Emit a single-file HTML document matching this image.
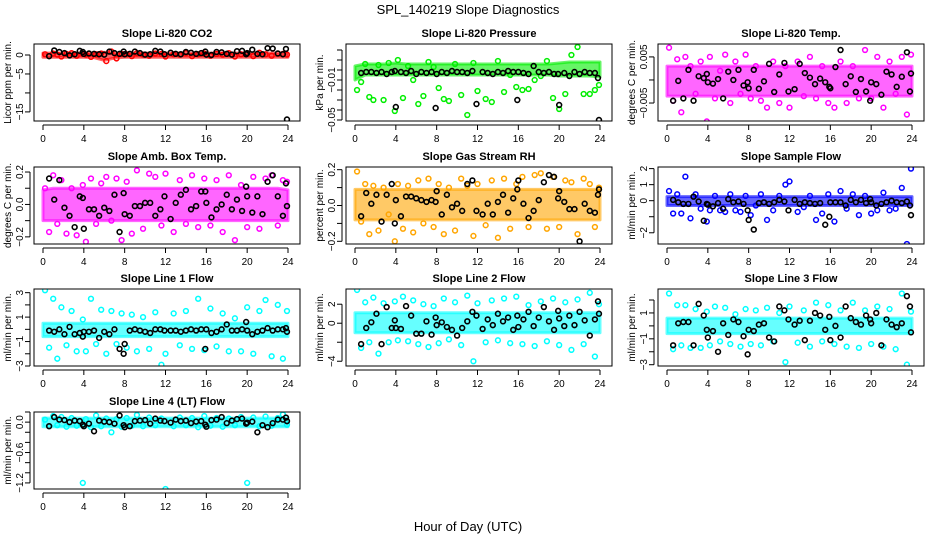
<!DOCTYPE html>
<html><head><meta charset="utf-8"><style>
html,body{margin:0;padding:0;background:#fff;}
svg{display:block;font-family:"Liberation Sans",sans-serif;}
</style></head><body>
<svg id="chart" width="936" height="540" xmlns="http://www.w3.org/2000/svg">
<text x="468" y="14" text-anchor="middle" font-size="13">SPL_140219  Slope Diagnostics</text>
<text x="468" y="531" text-anchor="middle" font-size="13">Hour of Day (UTC)</text>
</svg>
<script>
const xTicks=[0,4,8,12,16,20,24];
const bx=[0.6,1.1,1.6,2.1,2.6,3.1,3.6,3.9,4.0,4.5,5.0,5.5,6.0,6.5,7.0,7.5,7.9,8.0,8.5,9.0,9.5,10.0,10.5,11.0,11.5,11.9,12.5,13.0,13.5,14.0,14.5,15.0,15.5,15.9,16.0,16.5,17.0,17.5,18.0,18.5,19.0,19.5,19.9,20.0,20.5,21.0,21.5,22.0,22.5,23.0,23.5,23.8,23.9];
const cx=[0.2,0.6,1.0,1.4,1.8,2.3,2.8,3.3,3.9,4.2,4.7,5.2,5.7,6.2,6.7,7.2,7.7,8.2,8.7,9.2,9.8,10.4,11.0,11.6,12.0,12.8,13.4,14.0,14.6,15.2,15.8,16.4,17.0,17.6,18.2,18.8,19.4,20.0,20.6,21.2,21.8,22.4,23.0,23.5,23.9];
const bandHours=[0,1,2,3,4,5,6,7,8,9,10,11,12,13,14,15,16,17,18,19,20,21,22,23,24];

const co2Black=[-0.3,1.2,0.8,0.5,-0.1,0.2,1.1,0.8,0.3,0.4,0.3,0.2,0.1,0.9,0.5,0.3,0.9,0.2,0.3,0.9,0.5,0.1,0.2,1.1,0.9,0.2,0.6,0.3,0.2,0.8,0.6,0.3,0.5,0.9,0.1,0,0.8,0.7,0.3,0.1,1.0,1.1,0.2,0.5,1.4,0.3,0.2,1.8,1.7,0.4,0.2,1.6,-17.0];
const co2Color=[0.2,-0.3,0.4,0.1,-0.4,0.3,0.5,-0.2,0.3,0.1,-0.5,0.2,0.4,-1.6,0.9,-0.9,0.3,0.2,-0.3,0.5,0.1,-0.2,0.4,0.3,-0.4,0.2,0.1,0.5,-0.3,0.2,0.4,-0.2,0.3,0.1,0.5,-0.4,0.2,0.3,-0.3,0.6,0.2,-0.2,0.4,0.3,0.1];
const co2Lo=[-0.6,-0.6,-0.6,-0.6,-0.6,-0.7,-1.4,-0.8,-0.6,-0.6,-0.6,-0.6,-0.6,-0.6,-0.6,-0.6,-0.6,-0.6,-0.6,-0.6,-0.6,-0.6,-0.6,-0.6,-0.6];
const co2Hi=[0.5,0.5,0.5,0.5,0.5,0.5,0.7,0.5,0.5,0.5,0.5,0.5,0.5,0.5,0.5,0.5,0.5,0.5,0.5,0.5,0.5,0.5,0.5,0.5,0.5];

const presBlack=[-0.003,-0.002,-0.002,-0.003,-0.002,-0.004,-0.002,-0.001,-0.037,-0.002,-0.003,-0.001,-0.004,-0.002,-0.003,-0.002,-0.038,-0.004,-0.002,-0.003,-0.001,-0.002,-0.002,-0.003,-0.001,-0.034,-0.002,-0.003,-0.004,-0.002,-0.003,-0.001,-0.002,-0.030,-0.002,-0.003,-0.004,0.004,-0.002,-0.003,-0.002,-0.004,-0.004,-0.035,-0.003,-0.006,-0.002,-0.004,-0.002,-0.003,-0.003,-0.008,-0.050];
const presColor=[-0.020,-0.012,0.006,-0.027,-0.030,0.005,-0.030,0.007,-0.041,0.010,-0.028,0.004,-0.010,-0.034,-0.026,0.008,0.003,-0.018,-0.029,-0.031,0.006,-0.025,-0.045,0.007,-0.021,-0.029,-0.032,0.009,-0.022,-0.005,-0.017,-0.020,-0.019,-0.010,-0.006,0.009,-0.028,-0.039,-0.024,0.015,0.023,-0.024,-0.024,-0.020,-0.015];
const presLo=[-0.010,-0.005,-0.005,-0.005,-0.005,-0.005,-0.005,-0.005,-0.005,-0.005,-0.005,-0.005,-0.005,-0.005,-0.005,-0.005,-0.005,-0.005,-0.005,-0.005,-0.006,-0.006,-0.006,-0.006,-0.007];
const presHi=[0.004,0.006,0.006,0.006,0.007,0.006,0.006,0.006,0.006,0.006,0.006,0.006,0.006,0.006,0.006,0.006,0.006,0.006,0.006,0.006,0.007,0.008,0.008,0.008,0.008];

const tempBlack=[-0.0045,-0.0002,-0.004,0.0022,-0.0045,0.0008,0.0004,0.0013,-0.0005,-0.0008,0.0002,-0.004,0.0018,0,0.0022,-0.0012,-0.0005,-0.0018,0.0022,-0.0019,-0.0003,0.0035,-0.0026,0.0012,0.0037,-0.0025,-0.002,0.0035,0.0015,0.0005,-0.0009,0.0003,-0.0005,-0.0015,-0.0018,0.0028,0.0065,-0.0009,0.0008,-0.0026,0.0002,-0.0025,-0.0045,-0.0005,-0.0009,-0.0032,0.0018,0.0012,-0.0015,0.0007,0.006,-0.0025,0.0014];
const tempColor=[0.007,-0.0045,0.0045,-0.007,0.005,0.003,-0.003,0.004,-0.009,0.005,-0.004,0.002,0.0055,-0.005,0.004,-0.003,0.0055,-0.004,0.003,-0.0045,-0.006,0.004,-0.005,0.003,-0.006,0.004,-0.0035,0.005,-0.004,0.003,-0.005,-0.006,0.004,-0.005,0.003,-0.004,0.0065,-0.004,0.005,-0.006,0.004,-0.003,0.005,-0.0075,0.0055];
const tempLo=[-0.0035,-0.0035,-0.0035,-0.0035,-0.0035,-0.0035,-0.0035,-0.0035,-0.0035,-0.0035,-0.0035,-0.0035,-0.0035,-0.0035,-0.0035,-0.0035,-0.0035,-0.0035,-0.0035,-0.0035,-0.0035,-0.0035,-0.0035,-0.0035,-0.0035];
const tempHi=[0.003,0.003,0.003,0.003,0.003,0.003,0.003,0.003,0.003,0.003,0.003,0.003,0.003,0.003,0.003,0.003,0.003,0.003,0.003,0.003,0.003,0.003,0.003,0.003,0.003];

const ambBlack=[0.16,0.03,0.15,-0.02,-0.07,-0.14,0.05,0.04,-0.15,-0.03,-0.03,-0.07,-0.02,-0.04,0.06,-0.17,0.07,-0.06,-0.07,-0.01,-0.01,0.01,0.01,-0.07,-0.03,0.05,-0.09,0.01,0.06,0.09,-0.03,-0.01,0.08,0.08,0.01,-0.08,-0.03,0,0.06,-0.03,0.03,-0.04,0.11,0.05,-0.05,0.05,-0.06,0.14,0.18,0.05,-0.07,0.13,-0.01];
const ambColor=[0.10,-0.17,0.18,-0.12,0.15,-0.18,0.10,-0.19,0.12,-0.23,0.16,-0.12,0.13,0.17,-0.10,0.16,-0.22,0.14,-0.18,0.21,-0.15,0.19,0.17,-0.13,0.19,-0.17,0.15,-0.12,0.18,-0.14,0.16,-0.13,0.15,-0.17,0.18,-0.22,0.12,-0.14,0.17,-0.15,0.16,0.18,-0.13,0.15,0.14];
const ambLo=[-0.10,-0.10,-0.10,-0.10,-0.10,-0.10,-0.10,-0.10,-0.10,-0.10,-0.10,-0.10,-0.10,-0.10,-0.10,-0.10,-0.10,-0.10,-0.10,-0.10,-0.10,-0.10,-0.10,-0.10,-0.10];
const ambHi=[0.09,0.10,0.10,0.10,0.10,0.10,0.10,0.10,0.10,0.10,0.10,0.10,0.10,0.10,0.10,0.10,0.10,0.10,0.10,0.10,0.10,0.10,0.10,0.10,0.09];

const rhBlack=[-0.06,0.07,0.01,0.06,-0.09,0.06,0.12,-0.10,0.03,-0.06,0.05,0.05,0.04,0.03,0.02,0.03,0.02,0.08,-0.05,0.06,-0.01,0.01,-0.03,0.12,0.14,-0.03,-0.05,0.01,-0.05,0.02,0.06,-0.04,0.04,0.09,0.14,0.01,-0.07,-0.03,0.03,0.13,0.17,0.16,0.04,0.08,0.02,-0.02,-0.02,-0.2,0.01,-0.03,-0.04,0.06,0.09];
const rhColor=[0.19,-0.09,0.12,-0.16,0.11,-0.14,0.10,-0.05,-0.20,0.12,-0.13,0.11,-0.15,0.14,-0.10,0.15,-0.12,0.12,-0.16,0.10,-0.14,0.15,0.11,-0.17,0.12,-0.11,0.14,-0.18,0.15,-0.13,0.12,0.16,-0.12,0.17,0.18,-0.13,0.16,-0.12,0.14,0.13,-0.16,0.15,0.12,-0.12,0.10];
const rhLo=[-0.08,-0.08,-0.08,-0.08,-0.08,-0.08,-0.08,-0.08,-0.08,-0.08,-0.08,-0.08,-0.08,-0.08,-0.08,-0.08,-0.08,-0.08,-0.08,-0.08,-0.08,-0.08,-0.08,-0.08,-0.08];
const rhHi=[0.09,0.09,0.09,0.09,0.09,0.09,0.09,0.09,0.09,0.09,0.09,0.09,0.09,0.09,0.09,0.09,0.09,0.09,0.09,0.09,0.09,0.09,0.09,0.09,0.09];

const sampBlack=[0.05,-0.1,-0.2,-0.2,0.25,-0.05,-1.25,-0.2,-0.25,-0.35,-0.15,-0.5,0.1,-0.1,-0.05,-0.2,-0.6,-1.2,-1.8,-0.15,-0.1,-0.2,-0.1,0.05,-0.05,-0.6,0.05,-0.2,-0.1,-0.15,-0.2,-0.15,-1.5,-1.0,-0.1,-0.1,-0.1,-0.3,0.05,-0.1,0.05,-0.15,0.1,-0.1,-0.3,-0.2,-0.1,0,-0.1,-0.15,-0.05,-0.3,-0.9];
const sampColor=[0.6,-0.8,0.4,-0.8,1.5,-1.1,0.4,-0.5,-1.3,-0.6,0.3,-0.6,-0.7,0.4,-0.6,-0.7,0.3,-0.9,-0.3,0.4,-1.2,-0.6,0.3,1.0,1.2,-0.7,-0.4,0.3,-1.2,-0.8,0.4,-1.3,0.6,-0.5,0.4,-0.9,0.3,-0.8,-0.6,0.5,-0.6,-0.5,0.8,-2.7,2.0];
const sampLo=[-0.3,-0.3,-0.3,-0.3,-0.3,-0.3,-0.3,-0.3,-0.3,-0.3,-0.3,-0.3,-0.3,-0.3,-0.3,-0.3,-0.3,-0.3,-0.3,-0.3,-0.3,-0.3,-0.3,-0.3,-0.3];
const sampHi=[0.25,0.25,0.25,0.25,0.25,0.25,0.25,0.25,0.25,0.25,0.25,0.25,0.25,0.25,0.25,0.25,0.25,0.25,0.25,0.25,0.25,0.25,0.25,0.25,0.25];

const l1Black=[-0.1,-0.2,0,-0.4,0.2,-0.4,-0.3,-0.6,-0.2,-0.2,-0.1,-0.7,-0.2,-0.4,0,-1.6,-2.0,-1.2,-0.1,0,-0.1,-0.2,-0.3,0,0,-0.1,-0.1,-0.1,-0.2,-0.1,0,-0.1,0,-1.6,0,-0.3,-0.2,0,0.4,-0.1,-0.1,0,0.6,-0.1,-0.4,-0.2,-0.1,0.1,-0.1,0,0,0.1,-0.2];
const l1Color=[3.2,-1.5,2.5,-2.4,1.8,-1.3,1.5,-1.8,0.8,-1.8,2.5,-1.2,1.6,-2.0,1.5,-1.2,1.3,-1.5,1.2,-1.8,1.0,-1.6,1.4,-2.9,-2.0,1.3,-1.3,1.5,-1.6,2.5,-1.7,1.7,-1.4,1.3,-1.8,0.9,-1.8,1.8,-2.0,1.5,2.4,-2.2,2.0,-2.4,1.5];
const l1Lo=[-0.6,-0.6,-0.6,-0.6,-0.6,-0.6,-0.6,-0.6,-0.6,-0.6,-0.6,-0.6,-0.6,-0.6,-0.6,-0.6,-0.6,-0.6,-0.6,-0.6,-0.6,-0.6,-0.6,-0.6,-0.6];
const l1Hi=[0.5,0.5,0.5,0.5,0.5,0.5,0.5,0.5,0.5,0.5,0.5,0.5,0.5,0.5,0.5,0.5,0.5,0.5,0.5,0.5,0.5,0.5,0.5,0.5,0.5];

const l2Black=[-2.2,-0.5,0.1,1.0,-2.2,1.7,-0.5,0.3,-0.5,-0.6,1.8,0.8,-1.1,-1.1,0.2,-1.2,0.6,-0.2,0.1,-0.4,-0.7,-1.3,-0.5,0.2,1.2,0.8,-0.6,0.4,-0.2,1.0,0.2,0.6,-0.7,0.8,-0.4,0.4,1.2,-0.3,0.6,1.7,0.2,-0.7,1.3,0.5,-0.3,0.8,-0.2,1.2,0.3,-1.3,0.4,2.3,1.0];
const l2Color=[3.5,-2.6,2.2,-2.0,2.7,-3.2,2.1,-2.0,2.3,-1.8,2.8,-1.9,2.4,-2.2,2.0,-2.5,1.8,-2.1,2.6,-1.7,2.2,-2.3,2.9,-4.0,2.1,-2.0,2.4,-1.8,2.6,-2.1,2.8,-2.2,1.9,-2.4,2.3,-1.9,2.6,-2.3,2.2,-2.8,2.5,-2.2,3.2,-3.5,2.0];
const l2Lo=[-1.0,-1.0,-1.0,-1.0,-1.0,-1.0,-1.0,-1.0,-1.0,-1.0,-1.0,-1.0,-1.0,-1.0,-1.0,-1.0,-1.0,-1.0,-1.0,-1.0,-1.0,-1.0,-1.0,-1.0,-1.0];
const l2Hi=[1.1,1.1,1.1,1.1,1.1,1.1,1.1,1.1,1.1,1.1,1.1,1.1,1.1,1.1,1.1,1.1,1.1,1.1,1.1,1.1,1.1,1.1,1.1,1.1,1.1];

const l3Black=[-1.5,0.2,0.3,0.3,-1.5,1.7,0.8,-0.3,-0.9,-0.4,-2.0,0.2,-0.7,0.5,0.3,-0.8,-2.2,-0.3,-0.4,0.1,0.2,-0.9,-1.2,1.5,1.2,0.5,0.1,0.4,-1.1,0.4,1.0,0.8,-0.3,0.7,-1.1,0.0,-0.9,1.5,0.6,0.3,0.1,0.8,0.5,0.2,1.0,-1.5,0.5,0.1,-0.1,0.2,2.3,1.5,-0.5];
const l3Color=[2.5,-1.8,1.6,-1.5,1.6,-1.7,1.3,-1.7,1.1,-1.5,1.5,-1.2,1.4,-1.4,0.9,-1.6,1.3,-1.4,1.2,-1.5,1.4,-1.2,1.0,-2.8,1.5,-1.3,1.2,-1.6,1.8,-1.2,1.6,-1.4,1.2,-1.6,1.8,-1.7,1.2,-1.4,1.5,-1.6,1.3,-1.8,2.5,-3.0,1.1];
const l3Lo=[-0.6,-0.6,-0.6,-0.6,-0.6,-0.6,-0.6,-0.6,-0.6,-0.6,-0.6,-0.6,-0.6,-0.6,-0.6,-0.6,-0.6,-0.6,-0.6,-0.6,-0.6,-0.6,-0.6,-0.6,-0.6];
const l3Hi=[0.6,0.6,0.6,0.6,0.6,0.6,0.6,0.6,0.6,0.6,0.6,0.6,0.6,0.6,0.6,0.6,0.6,0.6,0.6,0.6,0.6,0.6,0.6,0.6,0.6];

const l4Black=[-0.08,0.1,0.05,0.04,0,0.03,0.02,-0.05,-0.08,-0.03,-0.18,0.03,0.01,0,-0.03,0.13,-0.06,-0.1,-0.08,0.02,0.03,0.04,-0.03,0.07,0.03,0.02,-0.01,0.05,0.02,0.03,-0.02,0.01,0.02,-0.05,-0.09,0.04,0.05,0.1,-0.02,0.03,0.06,0.07,-0.03,-0.01,0.01,-0.2,-0.06,-0.1,-0.02,0.05,0.05,0.09,0.02];
const l4Color=[0.05,-0.08,0.12,-0.06,0.10,-0.09,0.08,-0.07,-1.2,0.06,-0.10,0.13,-0.08,0.07,-0.20,0.06,-0.09,0.08,-0.07,0.14,-0.08,0.09,-0.06,0.07,-1.32,-0.08,0.09,-0.06,0.08,-0.10,0.12,-0.07,0.08,-0.09,0.07,-0.06,0.10,-1.2,0.09,-0.08,0.11,-0.07,0.08,0.15,-0.05];
const l4Lo=[-0.09,-0.09,-0.09,-0.09,-0.09,-0.09,-0.09,-0.09,-0.09,-0.09,-0.09,-0.09,-0.09,-0.09,-0.09,-0.09,-0.09,-0.09,-0.09,-0.09,-0.09,-0.09,-0.09,-0.09,-0.09];
const l4Hi=[0.08,0.08,0.08,0.08,0.08,0.08,0.08,0.08,0.08,0.08,0.08,0.08,0.08,0.08,0.08,0.08,0.08,0.08,0.08,0.08,0.08,0.08,0.08,0.08,0.08];

const panels=[
 {key:"co2",title:"Slope Li-820 CO2",ylab:"Licor ppm per min.",col:0,row:0,ymin:-17.4,ymax:2.9,ticks:[0,-5,-10,-15],labels:["0","-5","","-15"],color:"#ff0000",black:co2Black,colr:co2Color,lo:co2Lo,hi:co2Hi},
 {key:"pressure",title:"Slope Li-820 Pressure",ylab:"kPa per min.",col:1,row:0,ymin:-0.051,ymax:0.026,ticks:[0.02,0.01,0,-0.01,-0.02,-0.03,-0.04,-0.05],labels:["","","","-0.01","","","","-0.05"],color:"#00ee00",black:presBlack,colr:presColor,lo:presLo,hi:presHi},
 {key:"temp",title:"Slope Li-820 Temp.",ylab:"degrees C per min.",col:2,row:0,ymin:-0.0089,ymax:0.0078,ticks:[0.005,0,-0.005],labels:["0.005","","-0.005"],color:"#ff00ff",black:tempBlack,colr:tempColor,lo:tempLo,hi:tempHi},
 {key:"amb-box-temp",title:"Slope Amb. Box Temp.",ylab:"degrees C per min.",col:0,row:1,ymin:-0.244,ymax:0.231,ticks:[0.2,0.1,0,-0.1,-0.2],labels:["0.2","","0.0","","-0.2"],color:"#ff00ff",black:ambBlack,colr:ambColor,lo:ambLo,hi:ambHi},
 {key:"gas-rh",title:"Slope Gas Stream RH",ylab:"percent per min.",col:1,row:1,ymin:-0.215,ymax:0.215,ticks:[0.2,0.1,0,-0.1,-0.2],labels:["0.2","","0.0","","-0.2"],color:"#ffa500",black:rhBlack,colr:rhColor,lo:rhLo,hi:rhHi},
 {key:"sample-flow",title:"Slope Sample Flow",ylab:"ml/min per min.",col:2,row:1,ymin:-2.7,ymax:2.1,ticks:[2,1,0,-1,-2],labels:["2","1","0","","-2"],color:"#0000ff",black:sampBlack,colr:sampColor,lo:sampLo,hi:sampHi},
 {key:"line1-flow",title:"Slope Line 1 Flow",ylab:"ml/min per min.",col:0,row:2,ymin:-3.0,ymax:3.3,ticks:[3,2,1,0,-1,-2,-3],labels:["3","","1","","-1","","-3"],color:"#00ffff",black:l1Black,colr:l1Color,lo:l1Lo,hi:l1Hi},
 {key:"line2-flow",title:"Slope Line 2 Flow",ylab:"ml/min per min.",col:1,row:2,ymin:-4.5,ymax:3.6,ticks:[2,0,-2,-4],labels:["2","0","","-4"],color:"#00ffff",black:l2Black,colr:l2Color,lo:l2Lo,hi:l2Hi},
 {key:"line3-flow",title:"Slope Line 3 Flow",ylab:"ml/min per min.",col:2,row:2,ymin:-3.1,ymax:2.85,ticks:[2,1,0,-1,-2,-3],labels:["","1","","-1","","-3"],color:"#00ffff",black:l3Black,colr:l3Color,lo:l3Lo,hi:l3Hi},
 {key:"line4-flow",title:"Slope Line 4 (LT) Flow",ylab:"ml/min per min.",col:0,row:3,ymin:-1.32,ymax:0.2,ticks:[0.2,0,-0.2,-0.4,-0.6,-0.8,-1.0,-1.2],labels:["","0.0","","","-0.6","","","-1.2"],color:"#00ffff",black:l4Black,colr:l4Color,lo:l4Lo,hi:l4Hi}
];
const NS="http://www.w3.org/2000/svg";
const svg=document.getElementById("chart");
const colLeft=[34,346,658], rowTop=[44,167,289,412], W=266, H=77;
function mk(tag,attrs,parent){const e=document.createElementNS(NS,tag);for(const k in attrs)e.setAttribute(k,attrs[k]);parent.appendChild(e);return e;}
panels.forEach(p=>{
  const L=colLeft[p.col], T=rowTop[p.row], B=T+H, R=L+W;
  const xs=h=>L+9+h*(245/24);
  const ys=v=>T+(p.ymax-v)/(p.ymax-p.ymin)*H;
  const g=mk("g",{},svg);
  
  
  const clip=mk("clipPath",{id:"c-"+p.key},g);
  mk("rect",{x:L,y:T,width:W,height:H},clip);
  const t=mk("text",{x:(L+R)/2,y:T-7,"text-anchor":"middle","font-size":"11","font-weight":"bold"},g);
  t.textContent=p.title;
  
  
  const yl=mk("text",{transform:`translate(${L-23},${T+H/2}) rotate(-90)`,"text-anchor":"middle","font-size":"10"},g);
  yl.textContent=p.ylab;
  
  
  const marks=mk("g",{"clip-path":`url(#c-${p.key})`},g);
  let pts=[];
  bandHours.forEach((h,i)=>pts.push(xs(h)+","+ys(p.hi[i])));
  for(let i=bandHours.length-1;i>=0;i--)pts.push(xs(bandHours[i])+","+ys(p.lo[i]));
  const band=mk("polygon",{points:pts.join(" "),fill:p.color,stroke:p.color,"stroke-width":"3","stroke-opacity":"0.6","stroke-linejoin":"round","fill-opacity":"0.6"},marks);
  
  
  const n1=Math.min(cx.length,p.colr.length);
  for(let i=0;i<n1;i++){
    const c=mk("circle",{cx:xs(cx[i]),cy:ys(p.colr[i]),r:2.4,fill:"none",stroke:p.color,"stroke-width":"1.5"},marks);
    
    
  }
  const n2=Math.min(bx.length,p.black.length);
  for(let i=0;i<n2;i++){
    const c=mk("circle",{cx:xs(bx[i]),cy:ys(p.black[i]),r:2.4,fill:"none",stroke:"#000","stroke-width":"1.6"},marks);
    
    
  }
  const box=mk("rect",{x:L,y:T,width:W,height:H,fill:"none",stroke:"#000","stroke-width":"1"},g);
  
  
  mk("line",{x1:xs(0),x2:xs(24),y1:B+4,y2:B+4,stroke:"#000"},g);
  xTicks.forEach(h=>{
    mk("line",{x1:xs(h),x2:xs(h),y1:B+4,y2:B+9,stroke:"#000"},g);
    const tl=mk("text",{x:xs(h),y:B+21,"text-anchor":"middle","font-size":"10"},g);
    tl.textContent=h;
    
    
  });
  const yt0=ys(p.ticks[0]), yt1=ys(p.ticks[p.ticks.length-1]);
  mk("line",{x1:L-4,x2:L-4,y1:yt0,y2:yt1,stroke:"#000"},g);
  p.ticks.forEach((v,i)=>{
    mk("line",{x1:L-9,x2:L-4,y1:ys(v),y2:ys(v),stroke:"#000"},g);
    if(p.labels[i]){
      const tl=mk("text",{transform:`translate(${L-11},${ys(v)}) rotate(-90)`,"text-anchor":"middle","font-size":"10"},g);
      tl.textContent=p.labels[i].replace("-","\u2212");
      
      
    }
  });
});
</script>
</body></html>
